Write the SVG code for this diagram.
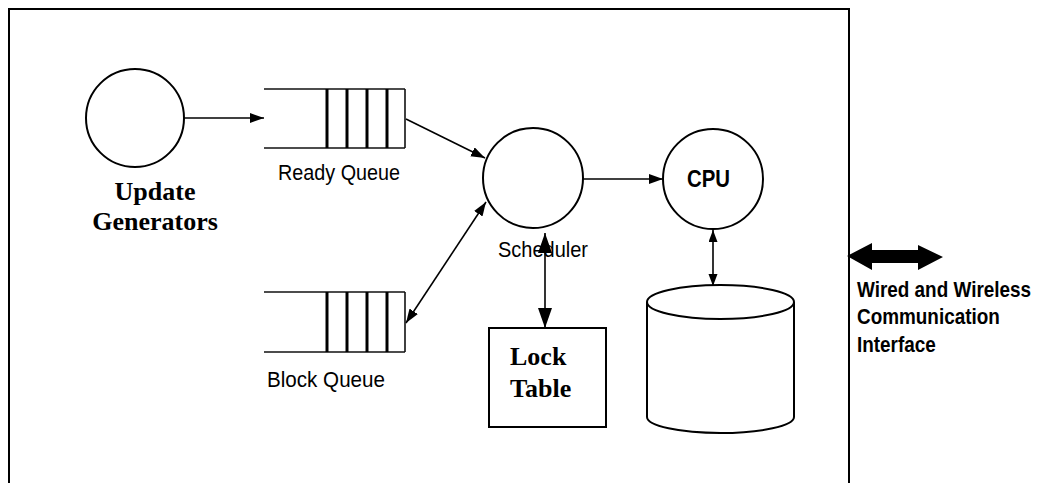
<svg xmlns="http://www.w3.org/2000/svg" width="1041" height="483" viewBox="0 0 1041 483">
<style>
.ln{stroke:#000;stroke-width:1.6;fill:none}
.sh{stroke:#000;stroke-width:2;fill:#fff}
.bar{stroke:#000;stroke-width:3}
.edge{stroke:#111;stroke-width:1.6}
.serif{font-family:"Liberation Serif","Times New Roman",serif;font-weight:bold;font-size:26px;fill:#000}
.sans{font-family:"Liberation Sans",Arial,sans-serif;font-size:22px;fill:#000}
.sansb{font-family:"Liberation Sans",Arial,sans-serif;font-size:23px;font-weight:bold;fill:#000}
.comm{font-family:"Liberation Sans",Arial,sans-serif;font-size:19.5px;font-weight:bold;fill:#000}
</style>
<defs>
<marker id="ah" markerUnits="userSpaceOnUse" markerWidth="15" markerHeight="11" refX="14" refY="5" orient="auto-start-reverse"><path d="M0,0 L14,5 L0,10 z" fill="#000"/></marker>
<marker id="ahL" markerUnits="userSpaceOnUse" markerWidth="21" markerHeight="15" refX="20" refY="7" orient="auto-start-reverse"><path d="M0,0 L20,7 L0,14 z" fill="#000"/></marker>
<marker id="ahS" markerUnits="userSpaceOnUse" markerWidth="13" markerHeight="10" refX="12" refY="4.5" orient="auto-start-reverse"><path d="M0,0 L12,4.5 L0,9 z" fill="#000"/></marker>
</defs>
<rect width="1041" height="483" fill="#fff"/>
<g id="frame"><path d="M9,483 V9 H849 V483" fill="none" stroke="#000" stroke-width="2"/></g>

<g id="connectors">
<line class="ln" x1="184" y1="118" x2="264" y2="118" marker-end="url(#ah)"/>
<line class="ln" x1="406" y1="119" x2="485" y2="158" marker-end="url(#ah)"/>
<line class="ln" x1="406" y1="323" x2="486" y2="202" marker-start="url(#ah)" marker-end="url(#ah)"/>
<line class="ln" x1="583" y1="179" x2="663" y2="179" marker-end="url(#ah)"/>
<line class="ln" x1="545" y1="233" x2="545" y2="328" marker-start="url(#ahL)" marker-end="url(#ahL)"/>
<line class="ln" x1="713" y1="230" x2="713" y2="286" marker-start="url(#ahS)" marker-end="url(#ahS)"/>
</g>

<g id="update-generators">
<circle class="sh" cx="135" cy="118" r="49"/>
<text class="serif" x="155" y="200" text-anchor="middle">Update</text>
<text class="serif" x="155" y="230" text-anchor="middle">Generators</text>
</g>

<g id="ready-queue">
<line class="edge" x1="264" y1="89" x2="405" y2="89"/>
<line class="edge" x1="264" y1="148" x2="405" y2="148"/>
<line class="edge" x1="405" y1="89" x2="405" y2="148"/>
<line class="bar" x1="327" y1="89" x2="327" y2="148"/>
<line class="bar" x1="347" y1="89" x2="347" y2="148"/>
<line class="bar" x1="367" y1="89" x2="367" y2="148"/>
<line class="bar" x1="387" y1="89" x2="387" y2="148"/>
<text class="sans" x="278" y="180" textLength="122" lengthAdjust="spacingAndGlyphs">Ready Queue</text>
</g>

<g id="block-queue">
<line class="edge" x1="264" y1="292" x2="405" y2="292"/>
<line class="edge" x1="264" y1="352" x2="405" y2="352"/>
<line class="edge" x1="405" y1="292" x2="405" y2="352"/>
<line class="bar" x1="327" y1="292" x2="327" y2="352"/>
<line class="bar" x1="347" y1="292" x2="347" y2="352"/>
<line class="bar" x1="367" y1="292" x2="367" y2="352"/>
<line class="bar" x1="387" y1="292" x2="387" y2="352"/>
<text class="sans" x="267" y="387" textLength="118" lengthAdjust="spacingAndGlyphs">Block Queue</text>
</g>

<g id="scheduler">
<circle class="sh" cx="533" cy="178" r="50"/>
<text class="sans" x="498" y="257" textLength="90" lengthAdjust="spacingAndGlyphs">Scheduler</text>
</g>

<g id="cpu">
<circle class="sh" cx="713" cy="179" r="50"/>
<text class="sansb" x="687" y="187" font-size="21" textLength="43" lengthAdjust="spacingAndGlyphs">CPU</text>
</g>

<g id="lock-table">
<rect class="sh" x="489" y="328" width="117" height="99"/>
<text class="serif" x="510" y="365" font-size="25">Lock</text>
<text class="serif" x="510" y="397" font-size="25">Table</text>
</g>

<g id="database">
<path class="sh" d="M647,302 L647,417 A73.5,16 0 0 0 794,417 L794,302"/>
<ellipse class="sh" cx="720.5" cy="302" rx="73.5" ry="17"/>
</g>

<g id="communication-interface">
<polygon points="847,256 872,243 872,250 918,250 918,245 943,257 918,270 918,263 872,263 872,270" fill="#000"/>
<text class="comm" transform="translate(857,297) scale(0.97,1.15)">Wired and Wireless</text>
<text class="comm" transform="translate(857,324) scale(0.97,1.15)">Communication</text>
<text class="comm" transform="translate(857,352) scale(0.97,1.15)">Interface</text>
</g>
</svg>
